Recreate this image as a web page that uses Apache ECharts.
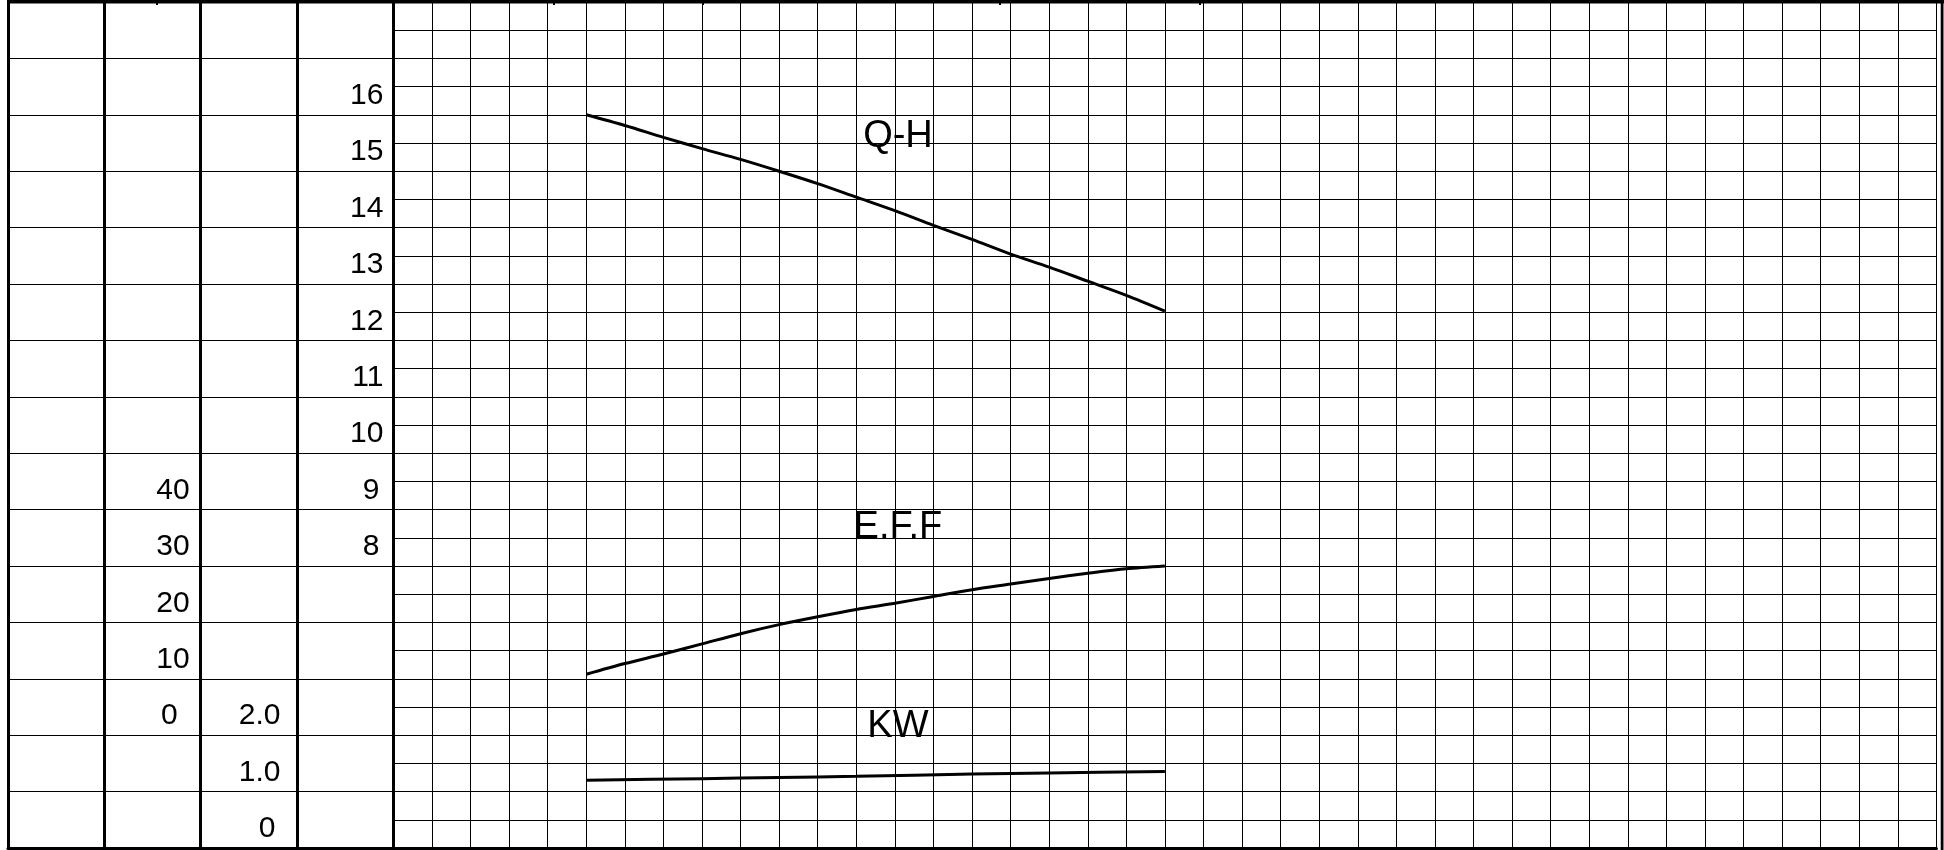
<!DOCTYPE html>
<html>
<head>
<meta charset="utf-8">
<title>Q-H</title>
<script src="https://cdn.jsdelivr.net/npm/echarts@6/dist/echarts.min.js"></script>
<style>
	html, body { margin: 0; padding: 0; background: #fff; }
	#chart { width: 1944px; height: 850px; }
</style>
</head>
<body>
<div id="chart"></div>
<script>
// 流量(格子序号)
var flow = [5, 6, 7, 8, 9, 10, 11, 12, 13, 14, 15, 16, 17, 18, 19, 20];
// 扬程 Q-H
var head = [16.0, 15.81, 15.6, 15.4, 15.21, 15.0, 14.78, 14.54, 14.3, 14.04, 13.79, 13.53, 13.3, 13.05, 12.8, 12.52];
// 效率 E.F.F
var eff = [10.8, 12.7, 14.4, 16.2, 18.0, 19.6, 21.0, 22.3, 23.4, 24.6, 25.8, 26.8, 27.8, 28.7, 29.5, 30.0];
// 功率 KW
var kwFlow = [5, 8, 10, 12, 15, 17, 20];
var kw = [1.2, 1.23, 1.25, 1.27, 1.31, 1.33, 1.355];

// 刻度标签
var hLabels = [8, 9, 10, 11, 12, 13, 14, 15, 16];
var effLabels = [0, 10, 20, 30, 40];
var kwLabels = [0, 1, 2];
var curveNames = ['Q-H', 'E.F.F', 'KW'];

var FONT = "'Liberation Sans', Arial, sans-serif";
var TOP = 2, BOTTOM = 2;

function pairs(xs, ys){
	var out = [];
	for(var i = 0; i < xs.length; i++){
		out.push([xs[i], ys[i]]);
	}
	return out;
}

function tagLabel(name, coord){
	return {
		symbol: 'rect',
		symbolSize: 1,
		itemStyle: { color: 'rgba(0,0,0,0)' },
		label: {
			show: true,
			position: 'inside',
			color: '#000',
			fontFamily: FONT,
			fontSize: 38,
			formatter: name
		},
		data: [{ name: name, coord: coord }]
	};
}

//隐藏的x轴(标签用的网格也要有x轴)
function hiddenX(gi){
	return { gridIndex: gi, type: 'value', min: 0, max: 1, show: false };
}

//带标签的y轴
function labelAxis(gi, min, max, interval, margin, values, fmt, pad, grid){
	return {
		gridIndex: gi,
		type: 'value',
		min: min,
		max: max,
		interval: interval,
		axisLine: { show: true, onZero: false, lineStyle: { color: '#000', width: 3 } },
		axisTick: { show: false },
		splitLine: { show: !!grid, lineStyle: { color: '#000', width: 1 } },
		axisLabel: {
			color: '#000',
			fontFamily: FONT,
			fontSize: 30,
			align: 'right',
			verticalAlign: 'bottom',
			padding: [0, 0, 4, 0],
			margin: margin,
			customValues: values,
			formatter: fmt,
			rich: { z: { fontFamily: FONT, fontSize: 30, color: '#000', padding: [0, pad, 0, 0] } }
		}
	};
}

function hiddenY(min, max){
	return { gridIndex: 0, type: 'value', min: min, max: max, show: false };
}

var lineStyle = { color: '#000', width: 3 };

var chart = echarts.init(document.getElementById('chart'));
var option = {
	animation: false,
	backgroundColor: '#fff',
	grid: [
		{ left: 393.4, right: 7.6, top: TOP, bottom: BOTTOM, outerBoundsMode: 'none' },   // 曲线网格
		{ left: 8, width: 385.4, top: TOP, bottom: BOTTOM, outerBoundsMode: 'none' },     // 左侧表格
		{ left: 200.7, width: 96.3, top: TOP, bottom: BOTTOM, outerBoundsMode: 'none' },  // 效率标签列
		{ left: 297, width: 96.4, top: TOP, bottom: BOTTOM, outerBoundsMode: 'none' }     // 功率标签列
	],
	xAxis: [{
		gridIndex: 0,
		type: 'value',
		min: 0,
		max: 40,
		interval: 1,
		axisLine: { show: true, onZero: false, lineStyle: { color: '#000', width: 3 } },
		axisTick: { show: false },
		axisLabel: { show: false },
		splitLine: { show: true, lineStyle: { color: '#000', width: 1 } }
	}, {
		gridIndex: 1,
		type: 'value',
		min: 0,
		max: 4,
		interval: 1,
		axisLine: { show: true, onZero: false, lineStyle: { color: '#000', width: 3 } },
		axisTick: { show: false },
		axisLabel: { show: false },
		splitLine: { show: true, lineStyle: { color: '#000', width: 3 } }
	}, hiddenX(2), hiddenX(3)],
	yAxis: [
		// 0 扬程 (带网格横线)
		labelAxis(0, 3, 18, 0.5, 10, hLabels, function(v){ return v < 10 ? '{z|' + v + '}' : String(v); }, 4, true),
		// 1 效率 (曲线用)
		hiddenY(-20, 130),
		// 2 功率 (曲线用)
		hiddenY(0, 15),
		// 3 左侧表格行线
		{
			gridIndex: 1,
			type: 'value',
			min: 0,
			max: 15,
			interval: 1,
			axisLine: { show: false },
			axisTick: { show: false },
			axisLabel: { show: false },
			splitLine: { show: true, lineStyle: { color: '#000', width: 1 } }
		},
		// 4 效率标签
		labelAxis(2, -20, 130, 10, 11, effLabels, function(v){ return v === 0 ? '{z|0}' : String(v); }, 12, false),
		// 5 功率标签
		labelAxis(3, 0, 15, 1, 16.5, kwLabels, function(v){ return v === 0 ? '{z|0}' : v.toFixed(1); }, 5, false)
	],
	series: [{
		name: curveNames[0],
		type: 'line',
		xAxisIndex: 0,
		yAxisIndex: 0,
		data: pairs(flow, head),
		showSymbol: false,
		smooth: 0.3,
		lineStyle: lineStyle,
		markPoint: tagLabel(curveNames[0], [13.08, 15.62])
	}, {
		name: curveNames[1],
		type: 'line',
		xAxisIndex: 0,
		yAxisIndex: 1,
		data: pairs(flow, eff),
		showSymbol: false,
		smooth: 0.3,
		lineStyle: lineStyle,
		markPoint: tagLabel(curveNames[1], [13.08, 36.9])
	}, {
		name: curveNames[2],
		type: 'line',
		xAxisIndex: 0,
		yAxisIndex: 2,
		data: pairs(kwFlow, kw),
		showSymbol: false,
		smooth: 0.3,
		lineStyle: lineStyle,
		markPoint: tagLabel(curveNames[2], [13.08, 2.16])
	}],
	graphic: [
		// 外框
		{ type: 'rect', shape: { x: 7, y: 0, width: 1937, height: 3.5 }, style: { fill: '#000' }, silent: true },
		{ type: 'rect', shape: { x: 1940.7, y: 0, width: 2.8, height: 850 }, style: { fill: '#000' }, silent: true },
		{ type: 'rect', shape: { x: 156, y: 0, width: 2, height: 5 }, style: { fill: '#000' }, silent: true },
		{ type: 'rect', shape: { x: 553, y: 0, width: 2, height: 5 }, style: { fill: '#000' }, silent: true },
		{ type: 'rect', shape: { x: 702, y: 0, width: 2, height: 5 }, style: { fill: '#000' }, silent: true },
		{ type: 'rect', shape: { x: 999, y: 0, width: 2, height: 5 }, style: { fill: '#000' }, silent: true },
		{ type: 'rect', shape: { x: 1199, y: 0, width: 2, height: 5 }, style: { fill: '#000' }, silent: true }
	]
};
chart.setOption(option);
</script>
</body>
</html>
